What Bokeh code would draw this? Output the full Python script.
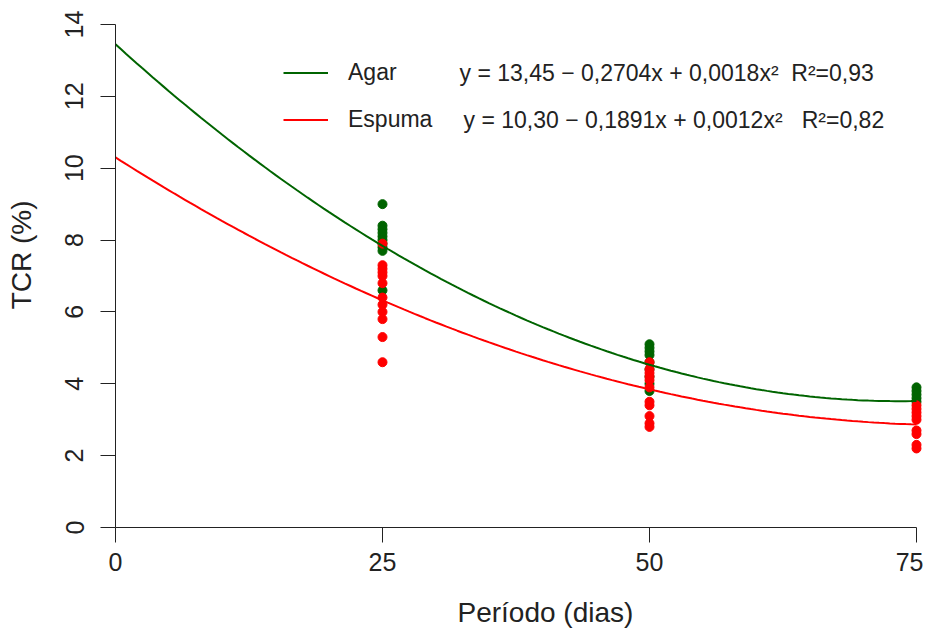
import numpy as np
from bokeh.plotting import figure
from bokeh.models import Legend, LegendItem, Label, Title, FixedTicker, Range1d
from bokeh.embed import file_html
from bokeh.resources import INLINE

# ---- data ----
periods = [25, 50, 75]
agar_vals = {
    25: [9.0, 8.4, 8.3, 8.2, 8.1, 8.0, 7.9, 7.8, 7.7, 6.6],
    50: [5.1, 5.0, 4.9, 4.8, 4.6, 4.4, 4.2, 4.0, 3.8],
    75: [3.9, 3.8, 3.7, 3.6, 3.5],
}
espuma_vals = {
    25: [7.9, 7.3, 7.2, 7.1, 7.0, 6.8, 6.4, 6.2, 6.0, 5.8, 5.3, 4.6],
    50: [4.6, 4.4, 4.3, 4.2, 4.1, 3.9, 3.5, 3.4, 3.1, 2.9, 2.8],
    75: [3.4, 3.3, 3.2, 3.1, 3.0, 2.7, 2.6, 2.3, 2.2],
}
agar_coef = [13.45, -0.2704, 0.00184]
espuma_coef = [10.30, -0.1891, 0.0012]
series_names = ["Agar", "Espuma"]
agar_eq = "y = 13,45 \u2212 0,2704x + 0,0018x\u00b2\u00a0\u00a0R\u00b2=0,93"
espuma_eq = "y = 10,30 \u2212 0,1891x + 0,0012x\u00b2\u00a0\u00a0\u00a0R\u00b2=0,82"
x_ticks = [0, 25, 50, 75]
y_ticks = [0, 2, 4, 6, 8, 10, 12, 14]
x_title = "Per\u00edodo (dias)"
y_title = "TCR (%)"

GREEN = "#006400"
RED = "#FF0000"
FONT = "Liberation Sans"
TXT = "#222222"

# pixel scale of the frame (layout constants)
X0, Y0, SX, SY = 115, 527, 10.68, 35.93


def flatten(d):
    xs, ys = [], []
    for k in periods:
        xs += [k] * len(d[k])
        ys += d[k]
    return xs, ys


p = figure(frame_width=808, frame_height=514,
           x_range=Range1d(0, 75 * 808 / 801), y_range=Range1d(0, 514 / SY),
           min_border_left=115, min_border_right=0, min_border_top=13,
           min_border_bottom=100, output_backend="svg", toolbar_location=None,
           background_fill_color="white", border_fill_color="white")
p.outline_line_color = None
p.grid.visible = False

for ax, ticks in ((p.xaxis, x_ticks), (p.yaxis, y_ticks)):
    ax.ticker = FixedTicker(ticks=ticks)
    ax.minor_tick_line_color = None
    ax.major_tick_in = 0
    ax.major_tick_out = 15
    ax.axis_line_color = TXT
    ax.major_tick_line_color = TXT
    ax.major_label_text_font = FONT
    ax.major_label_text_font_size = "25px"
    ax.major_label_text_color = TXT
p.xaxis.bounds = (0, 75)
p.yaxis.bounds = (0, 14)
p.xaxis.major_label_standoff = 10
p.yaxis.major_label_standoff = 17
p.yaxis.major_label_orientation = "vertical"

# leading no-break spaces nudge the centred title upwards, as in the original
p.yaxis.axis_label = "\u00a0" * 4 + y_title
p.yaxis.axis_label_standoff = 26
p.yaxis.axis_label_text_font = FONT
p.yaxis.axis_label_text_font_size = "28px"
p.yaxis.axis_label_text_font_style = "normal"
p.yaxis.axis_label_text_color = TXT

ax_x, ay_x = flatten(agar_vals)
ex_x, ey_x = flatten(espuma_vals)
p.scatter(ax_x, ay_x, size=9, color=GREEN)
p.scatter(ex_x, ey_x, size=9, color=RED)

xs = np.linspace(0, 75, 151)
agar_y = agar_coef[0] + agar_coef[1] * xs + agar_coef[2] * xs ** 2
esp_y = espuma_coef[0] + espuma_coef[1] * xs + espuma_coef[2] * xs ** 2
l1 = p.line(xs, agar_y, color=GREEN, line_width=2)
l2 = p.line(xs, esp_y, color=RED, line_width=2)

legend = Legend(items=[LegendItem(label=series_names[0], renderers=[l1]),
                       LegendItem(label=series_names[1], renderers=[l2])],
                location=(168, 394), padding=0, margin=0, spacing=20,
                glyph_width=45, glyph_height=27, label_height=27,
                label_standoff=20, border_line_color=None,
                background_fill_alpha=0,
                label_text_font=FONT, label_text_font_size="23px",
                label_text_color=TXT)
p.add_layout(legend)

for txt, px, py in ((agar_eq, 459, 72), (espuma_eq, 463, 119)):
    p.add_layout(Label(x=(px - X0) / SX, y=(Y0 - py) / SY, text=txt,
                       text_font=FONT, text_font_size="23px",
                       text_color=TXT, text_baseline="middle"))

p.add_layout(Title(text=x_title, align="left", offset=342, standoff=42,
                   text_font=FONT, text_font_size="28px",
                   text_font_style="normal", text_color=TXT), "below")

open("out.html", "w").write(file_html(p, INLINE))
